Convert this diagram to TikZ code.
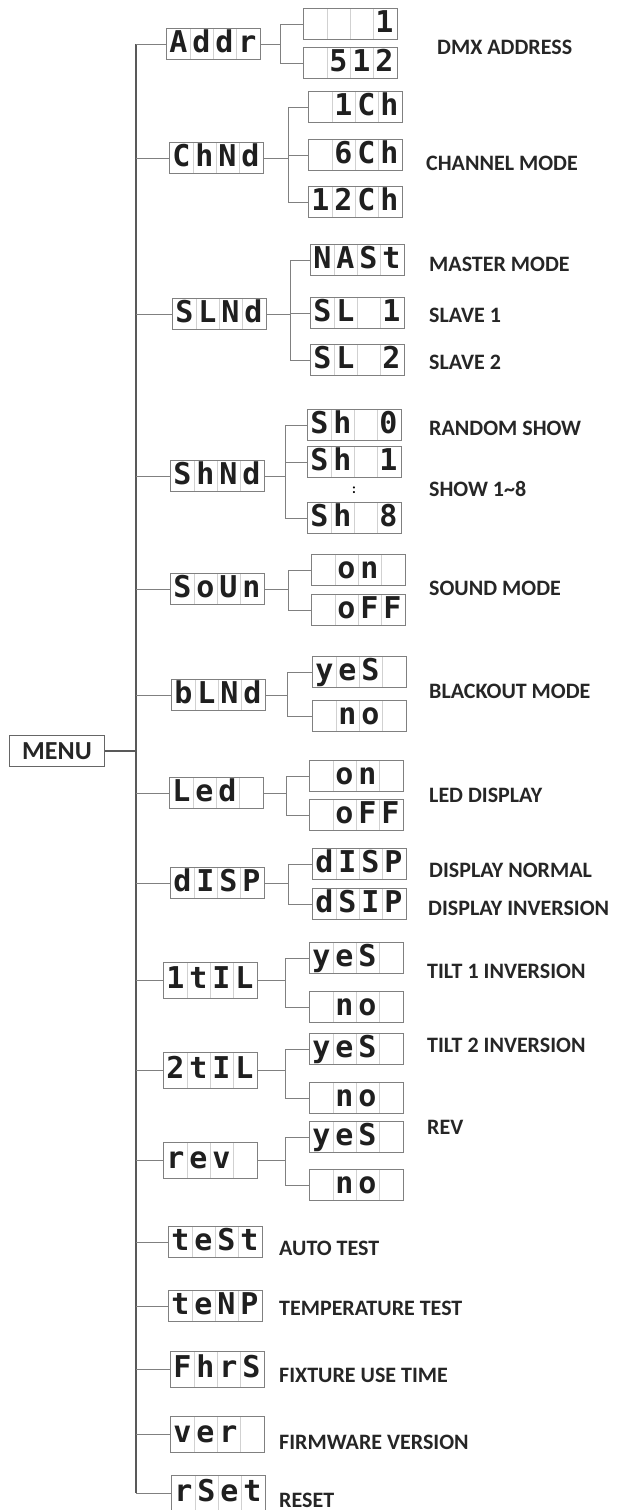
\documentclass[tikz,border=0pt]{standalone}
\usepackage{fontspec}
\setmainfont{Carlito}
\newfontfamily\lcdfont{DejaVu Sans Mono}
\usetikzlibrary{positioning}

% four digit cells of a display
\newcommand{\cells}[4]{\makebox[23pt]{#1}\makebox[23pt]{#2}\makebox[23pt]{#3}\makebox[23pt]{#4}}

\begin{document}
\begin{tikzpicture}[x=1pt,y=-1pt]
    \tikzstyle{lcd}=[draw=black!50, line width=0.9pt, inner xsep=1pt, inner ysep=0pt,
      minimum height=31pt, text height=22pt, text depth=6pt, text=black!88,
      font=\lcdfont\bfseries\fontsize{30pt}{30pt}\selectfont,
      path picture={\foreach \i in {1,2,3}
        \draw[black!18, line width=0.8pt] ([xshift=\i*23pt+1pt]path picture bounding box.south west)
          -- ([xshift=\i*23pt+1pt]path picture bounding box.north west);}]
    \tikzstyle{tall}=[minimum height=36pt]
    \tikzstyle{menubox}=[draw=black!60, line width=1.6pt, minimum width=95pt, minimum height=31pt,
      inner sep=0pt, font=\bfseries\fontsize{26pt}{26pt}\selectfont, text=black!85]
    \tikzstyle{label}=[anchor=west, inner sep=0pt, font=\bfseries\fontsize{22pt}{22pt}\selectfont, text=black!85]
    \tikzstyle{link}=[draw=black!50, line width=0.9pt]
    \tikzstyle{trunk}=[draw=black!65, line width=1.3pt]

    \useasboundingbox (0,0) rectangle (618,1510);

    \node[menubox] (menu) at (57,751) {MENU};
    \coordinate (trunktop) at (136,44);
    \coordinate (trunkbot) at (136,1493);

    % first level
    \node[lcd] (addr) at (213,44)  {\cells{A}{d}{d}{r}};
    \node[lcd] (chnd) at (216,158) {\cells{C}{h}{N}{d}};
    \node[lcd] (slnd) at (219,314) {\cells{S}{L}{N}{d}};
    \node[lcd] (shnd) at (217,476) {\cells{S}{h}{N}{d}};
    \node[lcd] (soun) at (217,589) {\cells{S}{o}{U}{n}};
    \node[lcd] (blnd) at (218,695) {\cells{b}{L}{N}{d}};
    \node[lcd] (led)  at (216,793) {\cells{L}{e}{d}{}};
    \node[lcd] (disp) at (217,883) {\cells{d}{I}{S}{P}};
    \node[lcd,tall] (tilta) at (210,980)  {\cells{1}{t}{I}{L}};
    \node[lcd,tall] (tiltb) at (210,1070) {\cells{2}{t}{I}{L}};
    \node[lcd,tall] (rev)   at (210,1160) {\cells{r}{e}{v}{}};
    \node[lcd] (test) at (215,1242) {\cells{t}{e}{S}{t}};
    \node[lcd] (temp) at (215,1306) {\cells{t}{e}{N}{P}};
    \node[lcd,tall] (fhrs) at (217,1369) {\cells{F}{h}{r}{S}};
    \node[lcd,tall] (ver)  at (217,1434) {\cells{v}{e}{r}{}};
    \node[lcd,tall] (rset) at (218,1493) {\cells{r}{S}{e}{t}};

    % second level
    \node[lcd] (addra) at (350,24)  {\cells{}{}{}{1}};
    \node[lcd] (addrb) at (350,63)  {\cells{}{5}{1}{2}};
    \node[lcd] (chnda) at (355,107) {\cells{}{1}{C}{h}};
    \node[lcd] (chndb) at (355,155) {\cells{}{6}{C}{h}};
    \node[lcd] (chndc) at (355,202) {\cells{1}{2}{C}{h}};
    \node[lcd] (slnda) at (357,260) {\cells{N}{A}{S}{t}};
    \node[lcd] (slndb) at (357,313) {\cells{S}{L}{}{1}};
    \node[lcd] (slndc) at (357,360) {\cells{S}{L}{}{2}};
    \node[lcd] (shnda) at (354,425) {\cells{S}{h}{}{0}};
    \node[lcd] (shndb) at (354,462) {\cells{S}{h}{}{1}};
    \node[inner sep=0pt, font=\bfseries\fontsize{14pt}{14pt}\selectfont] (shdots) at (354,490) {:};
    \node[lcd] (shndc) at (354,518) {\cells{S}{h}{}{8}};
    \node[lcd] (souna) at (358,570) {\cells{}{o}{n}{}};
    \node[lcd] (sounb) at (358,610) {\cells{}{o}{F}{F}};
    \node[lcd] (blnda) at (359,672) {\cells{y}{e}{S}{}};
    \node[lcd] (blndb) at (359,716) {\cells{}{n}{o}{}};
    \node[lcd] (leda)  at (356,776) {\cells{}{o}{n}{}};
    \node[lcd] (ledb)  at (356,815) {\cells{}{o}{F}{F}};
    \node[lcd] (dispa) at (359,864) {\cells{d}{I}{S}{P}};
    \node[lcd] (dispb) at (359,904) {\cells{d}{S}{I}{P}};
    \node[lcd] (tiltaa) at (356,958)  {\cells{y}{e}{S}{}};
    \node[lcd] (tiltab) at (356,1007) {\cells{}{n}{o}{}};
    \node[lcd] (tiltba) at (356,1049) {\cells{y}{e}{S}{}};
    \node[lcd] (tiltbb) at (356,1098) {\cells{}{n}{o}{}};
    \node[lcd] (reva)   at (356,1137) {\cells{y}{e}{S}{}};
    \node[lcd] (revb)   at (356,1185) {\cells{}{n}{o}{}};

    % descriptions
    \node[label] (lbaddr) at (437,47)   {DMX ADDRESS};
    \node[label] (lbchnd) at (426,163)  {CHANNEL MODE};
    \node[label] (lbmast) at (429,264)  {MASTER MODE};
    \node[label] (lbsla)  at (429,315)  {SLAVE 1};
    \node[label] (lbslb)  at (429,362)  {SLAVE 2};
    \node[label] (lbrand) at (429,428)  {RANDOM SHOW};
    \node[label] (lbshow) at (429,489)  {SHOW 1\textasciitilde 8};
    \node[label] (lbsoun) at (429,588)  {SOUND MODE};
    \node[label] (lbblnd) at (429,691)  {BLACKOUT MODE};
    \node[label] (lbled)  at (429,795)  {LED DISPLAY};
    \node[label] (lbnorm) at (429,870)  {DISPLAY NORMAL};
    \node[label] (lbinv)  at (428,908)  {DISPLAY INVERSION};
    \node[label] (lbtilta) at (427,971)  {TILT 1 INVERSION};
    \node[label] (lbtiltb) at (427,1045) {TILT 2 INVERSION};
    \node[label] (lbrev)  at (427,1127) {REV};
    \node[label] (lbtest) at (279,1248) {AUTO TEST};
    \node[label] (lbtemp) at (279,1308) {TEMPERATURE TEST};
    \node[label] (lbfhrs) at (279,1375) {FIXTURE USE TIME};
    \node[label] (lbver)  at (279,1442) {FIRMWARE VERSION};
    \node[label] (lbrset) at (279,1500) {RESET};

    % trunk
    \draw[trunk] (trunktop) -- (trunkbot);
    \draw[trunk] (menu.east) -- (menu.east -| trunktop);
    \foreach \n in {addr,chnd,slnd,shnd,soun,blnd,led,disp,tilta,tiltb,rev,test,temp,fhrs,ver,rset}
      \draw[link] (\n.west -| trunktop) -- (\n.west);

    % branches
    \draw[link] (addr.east) -- ++(20,0) |- (addra.west);
    \draw[link] (addr.east) -- ++(20,0) |- (addrb.west);
    \draw[link] (chnd.east) -- ++(25,0) |- (chnda.west);
    \draw[link] (chnd.east) -- ++(25,0) |- (chndb.west);
    \draw[link] (chnd.east) -- ++(25,0) |- (chndc.west);
    \draw[link] (slnd.east) -- ++(24,0) |- (slnda.west);
    \draw[link] (slnd.east) -- ++(24,0) |- (slndb.west);
    \draw[link] (slnd.east) -- ++(24,0) |- (slndc.west);
    \draw[link] (shnd.east) -- ++(21,0) |- (shnda.west);
    \draw[link] (shnd.east) -- ++(21,0) |- (shndb.west);
    \draw[link] (shnd.east) -- ++(21,0) |- (shndc.west);
    \draw[link] (soun.east) -- ++(24,0) |- (souna.west);
    \draw[link] (soun.east) -- ++(24,0) |- (sounb.west);
    \draw[link] (blnd.east) -- ++(22,0) |- (blnda.west);
    \draw[link] (blnd.east) -- ++(22,0) |- (blndb.west);
    \draw[link] (led.east) -- ++(23,0) |- (leda.west);
    \draw[link] (led.east) -- ++(23,0) |- (ledb.west);
    \draw[link] (disp.east) -- ++(24,0) |- (dispa.west);
    \draw[link] (disp.east) -- ++(24,0) |- (dispb.west);
    \draw[link] (tilta.east) -- ++(28,0) |- (tiltaa.west);
    \draw[link] (tilta.east) -- ++(28,0) |- (tiltab.west);
    \draw[link] (tiltb.east) -- ++(28,0) |- (tiltba.west);
    \draw[link] (tiltb.east) -- ++(28,0) |- (tiltbb.west);
    \draw[link] (rev.east) -- ++(28,0) |- (reva.west);
    \draw[link] (rev.east) -- ++(28,0) |- (revb.west);

\end{tikzpicture}
\end{document}
